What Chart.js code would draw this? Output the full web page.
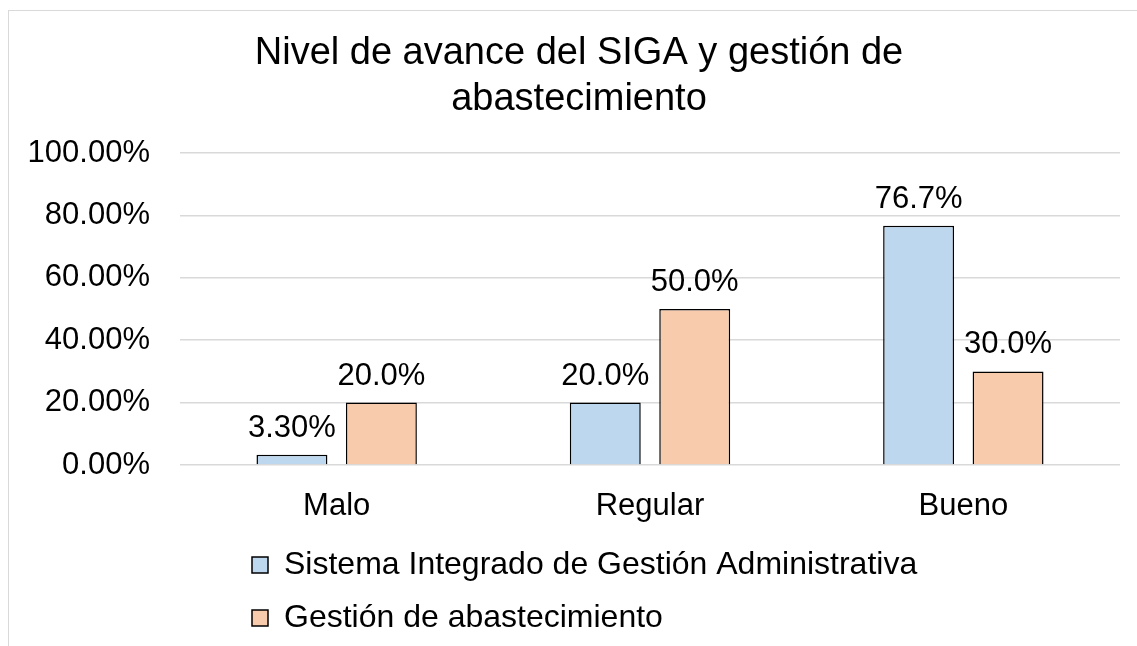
<!DOCTYPE html>
<html>
<head>
<meta charset="utf-8">
<script src="https://cdn.jsdelivr.net/npm/chart.js@4"></script>
<style>
  body { margin: 0; background: #fff; }
  #frame { position: absolute; left: 8px; top: 10px; width: 1129px; height: 636px; border-left: 1px solid #d9d9d9; border-top: 1px solid #d9d9d9; }
  #chart { position: absolute; left: 0; top: 0; }
</style>
</head>
<body>
<div id="frame"></div>
<canvas id="chart" width="1137" height="646"></canvas>
<script>
let categories = ['Malo', 'Regular', 'Bueno'];
let sigaValues = [3.3, 20.0, 76.7];
let abastValues = [20.0, 50.0, 30.0];
let sigaLabels = ['3.30%', '20.0%', '76.7%'];
let abastLabels = ['20.0%', '50.0%', '30.0%'];
let yTicks = [0, 20, 40, 60, 80, 100];

Chart.defaults.font.family = "'Liberation Sans', Arial, sans-serif";
Chart.defaults.font.size = 31;
Chart.defaults.color = '#000';

// value text above each bar
let barValueLabels = {
    id: 'barValueLabels',
    afterDatasetsDraw(chart) {
        let ctx = chart.ctx;
        let texts = [sigaLabels, abastLabels];
        ctx.save();
        ctx.font = "31px 'Liberation Sans', Arial, sans-serif";
        ctx.fillStyle = '#000';
        ctx.textAlign = 'center';
        ctx.textBaseline = 'alphabetic';
        chart.data.datasets.forEach((ds, i) => {
            chart.getDatasetMeta(i).data.forEach((bar, j) => {
                ctx.fillText(texts[i][j], bar.x, bar.y - 18);
            });
        });
        ctx.restore();
    }
};

// title sits a little right of canvas centre, legend rows indented from the plot edge
let shiftBoxes = {
    id: 'shiftBoxes',
    afterLayout(chart) {
        chart.titleBlock.left += 28;
        chart.legend.left = chart.chartArea.left + 51;
    }
};

let chartElement = document.getElementById('chart').getContext('2d');

let siga = new Chart(chartElement, {
    type: 'bar',
    data: {
        labels: categories,
        datasets: [
            {
                label: 'Sistema Integrado de Gestión Administrativa',
                data: sigaValues,
                backgroundColor: '#bdd7ee',
                borderColor: '#000',
                borderWidth: 1.5
            },
            {
                label: 'Gestión de abastecimiento',
                data: abastValues,
                backgroundColor: '#f8cbad',
                borderColor: '#000',
                borderWidth: 1.5
            }
        ]
    },
    options: {
        responsive: false,
        animation: false,
        categoryPercentage: 0.571,
        barPercentage: 0.793,
        layout: {
            padding: { left: 10, right: 17, top: 0, bottom: 2 }
        },
        scales: {
            x: {
                grid: { display: false },
                border: { display: false },
                ticks: { padding: 15 },
                afterFit: s => { s.height = 63; }
            },
            y: {
                min: 0,
                max: 100,
                afterBuildTicks: s => { s.ticks = yTicks.map(v => ({ value: v })); },
                grid: { color: '#d9d9d9', lineWidth: 1.5, drawTicks: false },
                border: { display: false },
                ticks: {
                    padding: 30,
                    callback: v => v.toFixed(2) + '%'
                },
                afterFit: s => { s.width = 170; }
            }
        },
        plugins: {
            title: {
                display: true,
                text: ['Nivel de avance del SIGA y gestión de', 'abastecimiento'],
                font: { size: 38, weight: 'normal' },
                color: '#000',
                padding: { top: 31, bottom: 30.8 }
            },
            legend: {
                position: 'bottom',
                align: 'start',
                fullSize: false,
                labels: {
                    boxWidth: 16,
                    boxHeight: 16,
                    padding: 21,
                    font: { size: 32 }
                }
            },
            tooltip: { enabled: false }
        }
    },
    plugins: [barValueLabels, shiftBoxes]
});
</script>
</body>
</html>
